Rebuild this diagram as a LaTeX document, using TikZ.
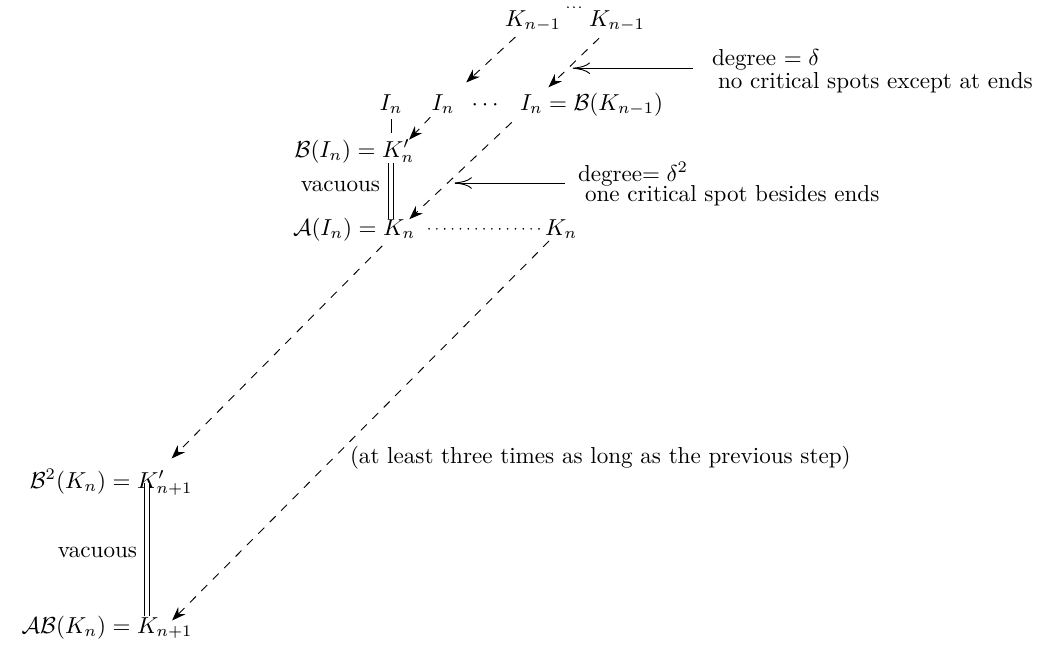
\documentclass[tikz,border=0pt]{standalone}
\usetikzlibrary{arrows.meta,calc}
\begin{document}
\begin{tikzpicture}[x=0.4329pt,y=-0.4329pt,
  m/.style={inner sep=0pt, outer sep=0pt, anchor=base},
  mw/.style={inner sep=0pt, outer sep=0pt, anchor=base west},
  me/.style={inner sep=0pt, outer sep=0pt, anchor=base east},
  txt/.style={inner sep=0pt, outer sep=0pt, anchor=base west},
  darr/.style={dash pattern=on 3.6pt off 3.4pt, -{Stealth[length=6pt,width=4.4pt,inset=2pt]}},
  larr/.style={-{Computer Modern Rightarrow[length=7.5pt,width=5pt]}},
  dotline/.style={line cap=round, dash pattern=on 0pt off 3.4pt, line width=0.8pt},
  dotshort/.style={line cap=round, dash pattern=on 0pt off 2.6pt, line width=0.8pt},
  vac/.style={double, double distance=2pt},
]
\useasboundingbox (0,0) rectangle (1039,651);

% row 1
\node[m] (Ka) at (533,26) {$K_{n-1}$};
\node[m] (Kb) at (617,26) {$K_{n-1}$};
% row 2
\node[m] (I1) at (391,110) {$I_n$};
\node[m] (I2) at (443,110) {$I_n$};
\node[m] (cd) at (485,110) {$\cdots$};
\node[mw] (I3) at (520,110) {$I_n$};
\node[mw] (I3r) at (I3.base east) {${}=\mathcal{B}(K_{n-1})$};
% row 3
\node[mw] (Kp) at (382,157) {$K'_n$};
\node[me] (BI) at (Kp.base west) {$\mathcal{B}(I_n)={}$};
% row 4
\node[mw] (Kn) at (383,235) {$K_n$};
\node[me] (AI) at (Kn.base west) {$\mathcal{A}(I_n)={}$};
\node[mw] (Kn2) at (545,235) {$K_n$};
% row 5
\node[mw] (Kp1) at (137,488) {$K'_{n+1}$};
\node[me] (B2) at (Kp1.base west) {$\mathcal{B}^2(K_n)={}$};
% row 6
\node[mw] (K1) at (137,633) {$K_{n+1}$};
\node[me] (AB) at (K1.base west) {$\mathcal{A}\mathcal{B}(K_n)={}$};

% labels
\node[me] (vac1) at (380,191) {vacuous};
\node[me] (vac2) at (137,557) {vacuous};
\node[txt] (d1a) at (712,65) {degree $=\delta$};
\node[txt] (d1b) at (718,88) {no critical spots except at ends};
\node[txt] (d2a) at (578,181) {degree$=\delta^2$};
\node[txt] (d2b) at (585,201) {one critical spot besides ends};
\node[txt] (long) at (350,463) {(at least three times as long as the previous step)};

% dotted links
\draw[dotshort] ([shift={(7,-3)}]Ka.north east) -- ([shift={(-4,-3)}]Kb.north west);
\draw[dotline] ([xshift=6pt]Kn.east) -- ([xshift=-1.5pt]Kn2.west);

% vertical links
\draw[shorten <=2.5pt, shorten >=3pt] (I1.south) -- (I1.south |- Kp.north);
\draw[vac] (I1.south |- Kp.south) -- (I1.south |- Kn.north);
\coordinate (Kp1c) at ([xshift=4.4pt]Kp1.west);
\draw[vac, shorten >=0.5pt] (Kp1c) -- (Kp1c |- K1.north);

% dashed arrows
\draw[darr, shorten <=3.6pt, shorten >=7.5pt] (Ka) -- (I2);
\draw[darr, shorten <=4.2pt, shorten >=4.3pt] (Kb) -- (I3);
\draw[darr, shorten <=2.2pt] (I2) -- (Kp);
\draw[darr, shorten <=5.6pt] (I3) -- (Kn);
\draw[darr, shorten <=4.5pt, shorten >=15pt] (Kn) -- (Kp1c);
\draw[darr, shorten <=1.5pt, shorten >=-2pt] (Kn2) -- (K1);

% label arrows
\coordinate (p1) at ($(Kb.center)!0.571!(I3.center)$);
\coordinate (p2) at ($(I3.center)!0.633!(Kn.center)$);
\draw[larr] ([xshift=-8.2pt]d1a.west |- p1) -- ([xshift=2pt]p1);
\draw[larr] ([xshift=-5.6pt]d2a.west |- p2) -- ([xshift=3pt]p2);
\end{tikzpicture}
\end{document}
